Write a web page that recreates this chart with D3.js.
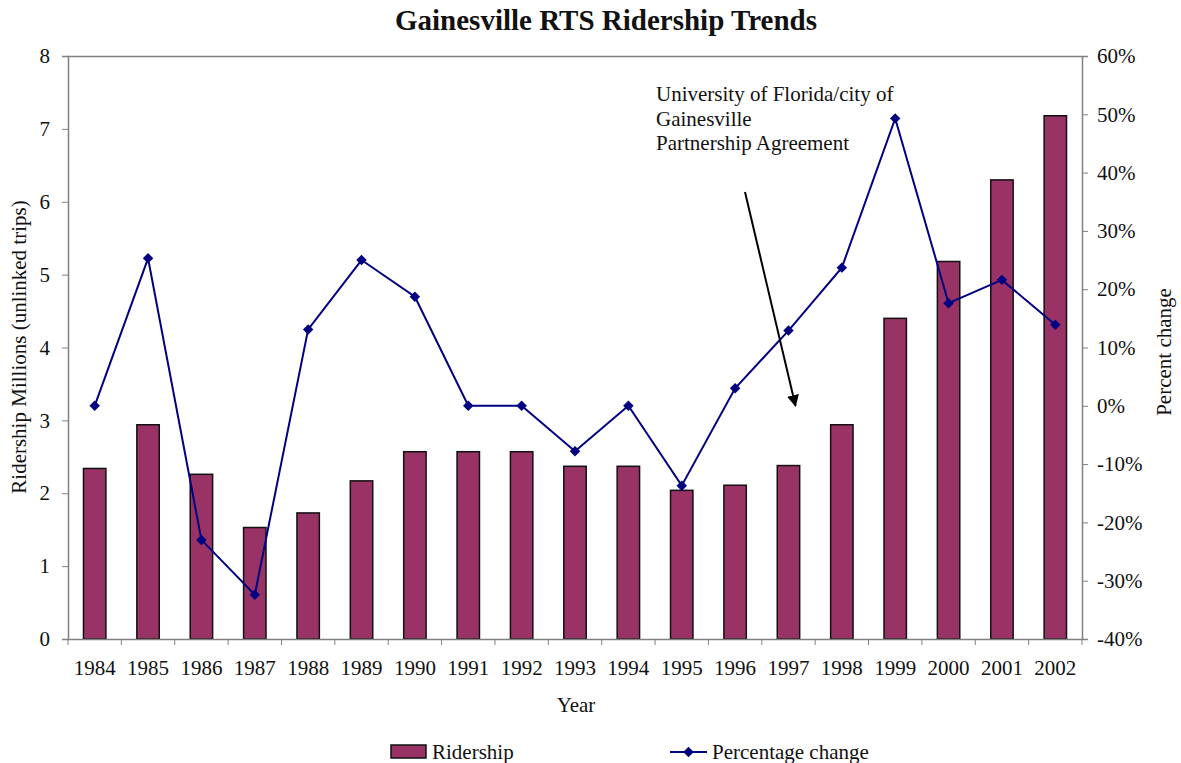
<!DOCTYPE html>
<html>
<head>
<meta charset="utf-8">
<script src="https://cdn.jsdelivr.net/npm/d3@7"></script>
<style>
  html, body { margin: 0; padding: 0; background: #fff; }
  svg { display: block; font-family: "Liberation Serif", "Times New Roman", serif; }
</style>
</head>
<body>
<svg id="chart" width="1181" height="763"></svg>
<script>
// Annual ridership (millions of unlinked trips) and year-over-year change
const years = ["1984","1985","1986","1987","1988","1989","1990","1991","1992","1993",
               "1994","1995","1996","1997","1998","1999","2000","2001","2002"];
const ridership = [2.34, 2.94, 2.26, 1.53, 1.73, 2.17, 2.57, 2.57, 2.57, 2.37,
                   2.37, 2.04, 2.11, 2.38, 2.94, 4.40, 5.18, 6.30, 7.18];
const pctChange = [0.0, 25.3, -23.0, -32.4, 13.1, 25.0, 18.7, 0.0, 0.0, -7.8,
                   0.0, -13.7, 3.0, 12.9, 23.7, 49.3, 17.6, 21.6, 13.9];
const leftTicks = [0, 1, 2, 3, 4, 5, 6, 7, 8];
const rightTicks = [-40, -30, -20, -10, 0, 10, 20, 30, 40, 50, 60];
const noteLines = ["University of Florida/city of", "Gainesville", "Partnership Agreement"];
const noteYear = "1997";

const svg = d3.select("#chart");
const m = { left: 68, right: 1082, top: 56, bottom: 639 };
const axisColor = "#808080";
const barColor = "#993366";
const lineColor = "#000080";
const textColor = "#111";
const fs = 21;

const x = d3.scaleBand().domain(years).range([m.left, m.right]).paddingInner(0.58).paddingOuter(0.29);
const xb = d3.scaleBand().domain(years).range([m.left, m.right]);
const yL = d3.scaleLinear().domain([0, 8]).range([m.bottom, m.top]);
const yR = d3.scaleLinear().domain([-40, 60]).range([m.bottom, m.top]);

// Title
svg.append("text").attr("x", 606).attr("y", 30).attr("text-anchor", "middle")
  .attr("font-size", 29).attr("font-weight", "bold").attr("fill", textColor)
  .text("Gainesville RTS Ridership Trends");

// Bars
svg.append("g").selectAll("rect").data(years).join("rect")
  .attr("x", d => x(d)).attr("width", x.bandwidth())
  .attr("y", (d, i) => yL(ridership[i]))
  .attr("height", (d, i) => yL(0) - yL(ridership[i]))
  .attr("fill", barColor).attr("stroke", "#111").attr("stroke-width", 1.5);

// Plot frame (top line)
svg.append("line").attr("x1", m.left).attr("x2", m.right).attr("y1", m.top + 0.5).attr("y2", m.top + 0.5)
  .attr("stroke", axisColor).attr("stroke-width", 1.5);

// Left axis
const gL = svg.append("g").attr("transform", `translate(${m.left},0)`)
  .call(d3.axisLeft(yL).tickValues(leftTicks).tickSize(6).tickPadding(12).tickFormat(d3.format("d")));
// Right axis
const gR = svg.append("g").attr("transform", `translate(${m.right},0)`)
  .call(d3.axisRight(yR).tickValues(rightTicks).tickSize(6).tickPadding(9).tickFormat(d => d + "%"));
// Bottom axis: ticks at category boundaries
const gB = svg.append("g").attr("transform", `translate(0,${m.bottom})`)
  .call(d3.axisBottom(x).tickSize(0).tickPadding(21));
gB.append("g").selectAll("line").data(years.concat(["end"])).join("line")
  .attr("x1", (d, i) => m.left + i * xb.step()).attr("x2", (d, i) => m.left + i * xb.step())
  .attr("y1", 0).attr("y2", 6).attr("stroke", axisColor).attr("stroke-width", 1);

[gL, gR, gB].forEach(g => {
  g.select(".domain").attr("stroke", axisColor).attr("stroke-width", 1.5);
  g.selectAll(".tick line").attr("stroke", axisColor);
  g.selectAll("text").attr("font-family", "Liberation Serif, Times New Roman, serif")
    .attr("font-size", fs).attr("fill", textColor);
});
gB.select(".domain").attr("d", `M${m.left},0.5H${m.right}`);

// Percentage change line
const line = d3.line().x((d, i) => xb(years[i]) + xb.bandwidth() / 2).y(d => yR(d));
svg.append("path").datum(pctChange).attr("d", line)
  .attr("fill", "none").attr("stroke", lineColor).attr("stroke-width", 2);
const diamond = d3.symbol().type(d3.symbolDiamond2).size(70);
svg.append("g").selectAll("path").data(pctChange).join("path")
  .attr("d", diamond)
  .attr("transform", (d, i) => `translate(${xb(years[i]) + xb.bandwidth() / 2},${yR(d)})`)
  .attr("fill", lineColor);

// Axis titles
svg.append("text").attr("transform", "translate(26,347) rotate(-90)").attr("text-anchor", "middle")
  .attr("font-size", fs).attr("fill", textColor).text("Ridership Millions (unlinked trips)");
svg.append("text").attr("transform", "translate(1171,352) rotate(-90)").attr("text-anchor", "middle")
  .attr("font-size", fs).attr("fill", textColor).text("Percent change");
svg.append("text").attr("x", 576).attr("y", 712).attr("text-anchor", "middle")
  .attr("font-size", fs).attr("fill", textColor).text("Year");

// Annotation with arrow
const note = svg.append("text").attr("x", 656).attr("y", 101).attr("font-size", fs).attr("fill", textColor);
note.selectAll("tspan").data(noteLines).join("tspan")
  .attr("x", 656).attr("dy", (d, i) => i === 0 ? 0 : 24.5).text(d => d);
const tipX = xb(noteYear) + xb.bandwidth() / 2 + 7;
const tipY = yR(0);
const startX = 745, startY = 192;
svg.append("defs").append("marker").attr("id", "arrowhead")
  .attr("viewBox", "0 0 10 10").attr("refX", 9).attr("refY", 5)
  .attr("markerWidth", 6).attr("markerHeight", 6).attr("orient", "auto")
  .append("path").attr("d", "M0,0L10,5L0,10Z").attr("fill", "#000");
svg.append("line").attr("x1", startX).attr("y1", startY).attr("x2", tipX).attr("y2", tipY)
  .attr("stroke", "#000").attr("stroke-width", 2).attr("marker-end", "url(#arrowhead)");

// Legend
const leg = svg.append("g");
leg.append("rect").attr("x", 391).attr("y", 745).attr("width", 35).attr("height", 13)
  .attr("fill", barColor).attr("stroke", "#111").attr("stroke-width", 1.5);
leg.append("text").attr("x", 432).attr("y", 759).attr("font-size", fs).attr("fill", textColor).text("Ridership");
leg.append("line").attr("x1", 670).attr("x2", 707).attr("y1", 752).attr("y2", 752)
  .attr("stroke", lineColor).attr("stroke-width", 2);
leg.append("path").attr("d", diamond).attr("transform", "translate(688.5,752)").attr("fill", lineColor);
leg.append("text").attr("x", 712).attr("y", 759).attr("font-size", fs).attr("fill", textColor).text("Percentage change");
</script>
</body>
</html>
